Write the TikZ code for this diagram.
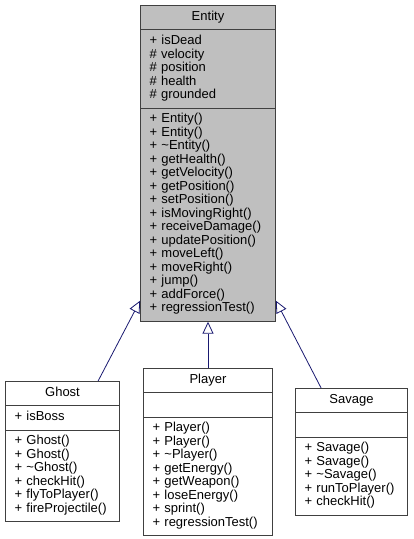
\documentclass[tikz,border=0pt]{standalone}
\usepackage{fontspec}
\setmainfont{Liberation Sans}
\usetikzlibrary{shapes.multipart,arrows.meta,calc}
\definecolor{edgeblue}{HTML}{191970}
\definecolor{boxgray}{HTML}{BFBFBF}
\definecolor{boxline}{HTML}{404040}
\newcommand{\classtitle}[1]{\strut\hspace*{\fill}#1\hspace*{\fill}\strut}

\begin{document}
\begin{tikzpicture}[x=1pt,y=-1pt,
  every node/.style={font=\fontsize{13}{13.5}\selectfont},
  class/.style={rectangle split,rectangle split parts=3,draw=boxline,fill=white,
    anchor=north,align=left,inner xsep=9pt,inner ysep=5pt,line width=0.8pt},
  inherit/.style={draw=edgeblue,line width=0.8pt,
    -{Triangle[open,length=12pt,width=11pt,fill=white]}}]
\useasboundingbox (0,0) rectangle (414,539);

\node(Entity) [class,fill=boxgray,text width=117pt] at (208,5)
  {\classtitle{Entity}
   \nodepart{two}\strut + isDead\\ \# velocity\\ \# position\\ \# health\\ \# grounded\strut
   \nodepart{three}\strut + Entity()\\ + Entity()\\ + \textasciitilde Entity()\\
   + getHealth()\\ + getVelocity()\\ + getPosition()\\ + setPosition()\\
   + isMovingRight()\\ + receiveDamage()\\ + updatePosition()\\ + moveLeft()\\
   + moveRight()\\ + jump()\\ + addForce()\\ + regressionTest()\strut};

\node(Ghost) [class,text width=96pt] at (62.5,381)
  {\classtitle{Ghost}
   \nodepart{two}\strut + isBoss\strut
   \nodepart{three}\strut + Ghost()\\ + Ghost()\\ + \textasciitilde Ghost()\\
   + checkHit()\\ + flyToPlayer()\\ + fireProjectile()\strut};

\node(Player) [class,text width=111pt] at (208,368)
  {\classtitle{Player}
   \nodepart{two}\strut
   \nodepart{three}\strut + Player()\\ + Player()\\ + \textasciitilde Player()\\
   + getEnergy()\\ + getWeapon()\\ + loseEnergy()\\ + sprint()\\
   + regressionTest()\strut};

\node(Savage) [class,text width=94pt] at (351.5,388)
  {\classtitle{Savage}
   \nodepart{two}\strut
   \nodepart{three}\strut + Savage()\\ + Savage()\\ + \textasciitilde Savage()\\
   + runToPlayer()\\ + checkHit()\strut};

% inheritance
\draw[inherit] ($(Ghost.north west)+(93,0)$) -- ($(Entity.south west)+(0,-21)$);
\draw[inherit] (Player.north) -- (Entity.south);
\draw[inherit] ($(Savage.north west)+(26,0)$) -- ($(Entity.south east)+(0,-21)$);
\end{tikzpicture}
\end{document}
